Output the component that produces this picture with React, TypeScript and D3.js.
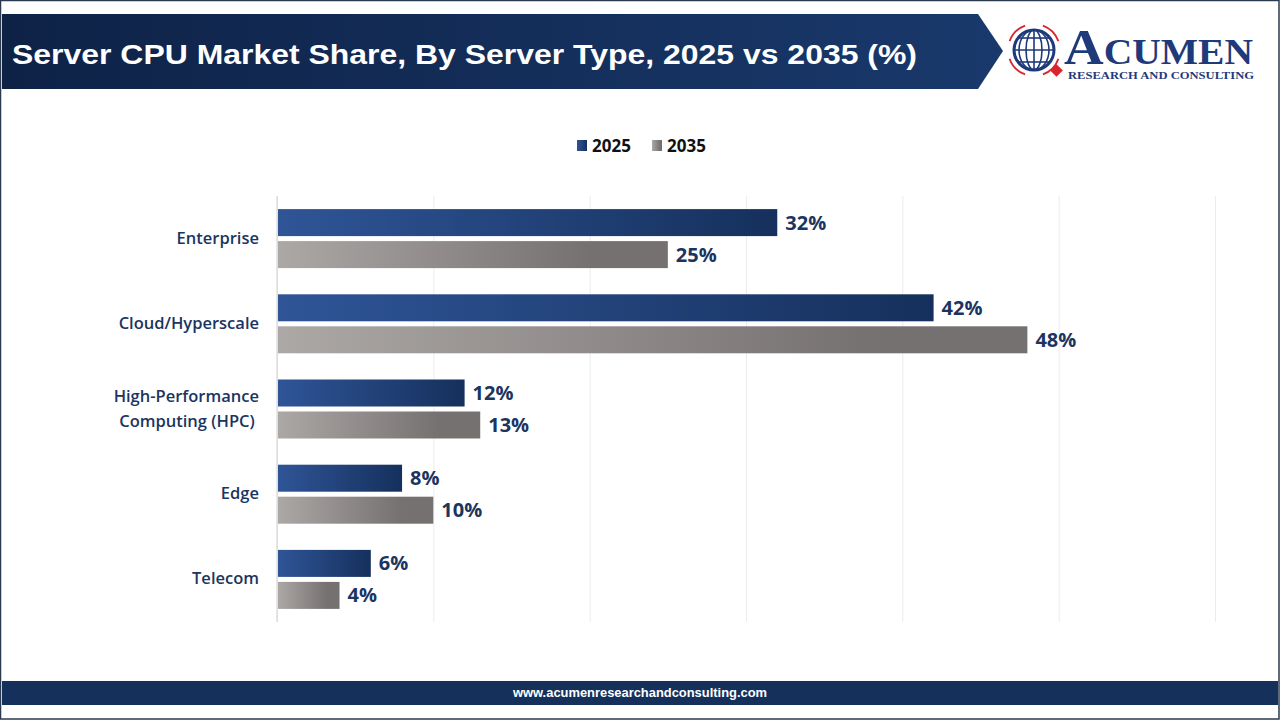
import { useEffect, useRef } from 'react';
import { select, scaleLinear, scaleBand, axisBottom } from 'd3';

const categories = ['Enterprise', 'Cloud/Hyperscale', 'High-Performance Computing (HPC)', 'Edge', 'Telecom'];
const categoryLines = [['Enterprise'], ['Cloud/Hyperscale'], ['High-Performance', 'Computing (HPC) '], ['Edge'], ['Telecom']];
const years = ['2025', '2035'];
const share2025 = [32, 42, 12, 8, 6];
const share2035 = [25, 48, 13, 10, 4];
const xTicks = [0, 10, 20, 30, 40, 50, 60];

const W = 1280;
const H = 720;
const plot = { left: 277, right: 1215, top: 196, bottom: 622 };
const navy = '#1b3561';
const labelFont = '"Open Sans", "Noto Sans", sans-serif';

const App = () => {
  const svgRef = useRef(null);

  useEffect(() => {
    const svg = select(svgRef.current);
    svg.selectAll('*').remove();

    const defs = svg.append('defs');
    const blue = defs.append('linearGradient').attr('id', 'g2025');
    blue.append('stop').attr('offset', '0%').attr('stop-color', '#2f5597');
    blue.append('stop').attr('offset', '100%').attr('stop-color', '#15305c');
    const grey = defs.append('linearGradient').attr('id', 'g2035');
    grey.append('stop').attr('offset', '0%').attr('stop-color', '#aca8a6');
    grey.append('stop').attr('offset', '80%').attr('stop-color', '#767171');
    grey.append('stop').attr('offset', '100%').attr('stop-color', '#767171');
    const head = defs.append('linearGradient').attr('id', 'head');
    head.append('stop').attr('offset', '0%').attr('stop-color', '#0e2246');
    head.append('stop').attr('offset', '100%').attr('stop-color', '#19396c');

    svg.append('rect').attr('width', W).attr('height', H).attr('fill', '#fff');

    // header banner with arrow tip
    svg
      .append('path')
      .attr('d', 'M2,14 L978,14 L1003,51 L978,89 L2,89 Z')
      .attr('fill', 'url(#head)');
    svg
      .append('text')
      .attr('x', 12)
      .attr('y', 64)
      .attr('fill', '#fff')
      .attr('font-family', '"Liberation Sans", Arial, sans-serif')
      .attr('font-weight', 700)
      .attr('font-size', 28)
      .attr('textLength', 905)
      .attr('lengthAdjust', 'spacingAndGlyphs')
      .text('Server CPU Market Share, By Server Type, 2025 vs 2035 (%)');

    // logo: globe, red orbit arrows, wordmark
    const logo = svg.append('g');
    const cx = 1034;
    const cy = 50;
    logo.append('circle').attr('cx', cx).attr('cy', cy).attr('r', 20).attr('fill', '#fff').attr('stroke', '#1f3a7a').attr('stroke-width', 3);
    [-12, 0, 12].forEach((dy) => {
      const hw = Math.sqrt(400 - dy * dy);
      logo.append('line').attr('x1', cx - hw).attr('x2', cx + hw).attr('y1', cy + dy).attr('y2', cy + dy).attr('stroke', '#1f3a7a').attr('stroke-width', 1.6);
    });
    [8, 15].forEach((rx) => {
      logo.append('ellipse').attr('cx', cx).attr('cy', cy).attr('rx', rx).attr('ry', 20).attr('fill', 'none').attr('stroke', '#1f3a7a').attr('stroke-width', 1.6);
    });
    logo.append('line').attr('x1', cx).attr('x2', cx).attr('y1', cy - 20).attr('y2', cy + 20).attr('stroke', '#1f3a7a').attr('stroke-width', 1.6);
    const arcR = 26;
    [[200, 250], [290, 340], [20, 70], [110, 160]].forEach(([a0, a1]) => {
      const p0 = [cx + arcR * Math.cos((a0 * Math.PI) / 180), cy + arcR * Math.sin((a0 * Math.PI) / 180)];
      const p1 = [cx + arcR * Math.cos((a1 * Math.PI) / 180), cy + arcR * Math.sin((a1 * Math.PI) / 180)];
      logo
        .append('path')
        .attr('d', `M${p0[0]},${p0[1]} A${arcR},${arcR} 0 0 1 ${p1[0]},${p1[1]}`)
        .attr('fill', 'none')
        .attr('stroke', '#d9262c')
        .attr('stroke-width', 1.8);
    });
    logo.append('rect').attr('x', 1052).attr('y', 66).attr('width', 9).attr('height', 9).attr('fill', '#d9262c').attr('transform', 'rotate(45 1056.5 70.5)');
    logo
      .append('text')
      .attr('x', 1064)
      .attr('y', 64)
      .attr('fill', '#1f3a7a')
      .attr('font-family', '"Liberation Serif", "DejaVu Serif", serif')
      .attr('font-weight', 700)
      .call((t) => {
        t.append('tspan').attr('font-size', 50).text('A');
        t.append('tspan').attr('font-size', 36).text('CUMEN');
      })
      .attr('textLength', 189)
      .attr('lengthAdjust', 'spacingAndGlyphs');
    logo
      .append('text')
      .attr('x', 1068)
      .attr('y', 79)
      .attr('fill', '#1f3a7a')
      .attr('font-family', '"Liberation Serif", "DejaVu Serif", serif')
      .attr('font-weight', 700)
      .attr('font-size', 11)
      .attr('textLength', 186)
      .attr('lengthAdjust', 'spacingAndGlyphs')
      .text('RESEARCH AND CONSULTING');

    // legend
    const legend = svg.append('g').attr('font-family', labelFont).attr('font-weight', 700).attr('font-size', 17);
    [
      { x: 577, fill: 'url(#g2025)', label: years[0] },
      { x: 652, fill: 'url(#g2035)', label: years[1] },
    ].forEach((d) => {
      legend.append('rect').attr('x', d.x).attr('y', 140).attr('width', 10).attr('height', 11).attr('fill', d.fill);
      legend.append('text').attr('x', d.x + 15).attr('y', 152).attr('fill', '#111').text(d.label);
    });

    // scales
    const x = scaleLinear().domain([0, 60]).range([plot.left, plot.right]);
    const y = scaleBand().domain(categories).range([plot.top, plot.bottom]);
    const barH = 27;
    const gap = 5;

    const grid = svg
      .append('g')
      .attr('transform', `translate(0,${plot.bottom})`)
      .call(axisBottom(x).tickValues(xTicks).tickSize(-(plot.bottom - plot.top)).tickFormat(() => ''));
    grid.select('.domain').remove();
    grid.selectAll('line').attr('stroke', '#ececec').attr('stroke-width', 1);

    svg.append('line').attr('x1', plot.left).attr('x2', plot.left).attr('y1', plot.top).attr('y2', plot.bottom).attr('stroke', '#d0d0d0');

    const g = svg.append('g');

    categories.forEach((c, i) => {
      const mid = y(c) + y.bandwidth() / 2;
      const y1 = mid - gap / 2 - barH;
      const y2 = mid + gap / 2;
      const bars = [
        { v: share2025[i], yy: y1, fill: 'url(#g2025)' },
        { v: share2035[i], yy: y2, fill: 'url(#g2035)' },
      ];
      bars.forEach((b) => {
        g.append('rect').attr('x', x(0) + 1).attr('y', b.yy).attr('width', x(b.v) - x(0) - 1).attr('height', barH).attr('fill', b.fill);
        g.append('text')
          .attr('x', x(b.v) + 8)
          .attr('y', b.yy + barH / 2 + 7)
          .attr('fill', navy)
          .attr('font-family', labelFont)
          .attr('font-weight', 700)
          .attr('font-size', 20)
          .text(`${b.v}%`);
      });

      const lines = categoryLines[i];
      lines.forEach((ln, k) => {
        g.append('text')
          .attr('x', 259)
          .attr('y', mid + 5 + (k - (lines.length - 1) / 2) * 25)
          .attr('text-anchor', 'end')
          .attr('fill', navy)
          .attr('font-family', labelFont)
          .attr('font-weight', 600)
          .attr('font-size', 16.5)
          .attr('xml:space', 'preserve')
          .text(ln);
      });
    });

    // footer
    svg.append('rect').attr('x', 2).attr('y', 681).attr('width', 1276).attr('height', 24).attr('fill', '#14305b');
    svg
      .append('text')
      .attr('x', 640)
      .attr('y', 697)
      .attr('text-anchor', 'middle')
      .attr('fill', '#fff')
      .attr('font-family', '"Liberation Sans Narrow", "Liberation Sans", Arial, sans-serif')
      .attr('font-weight', 700)
      .attr('font-size', 13)
      .attr('textLength', 254)
      .attr('lengthAdjust', 'spacingAndGlyphs')
      .text('www.acumenresearchandconsulting.com');

    // outer frame
    svg.append('rect').attr('x', 0.5).attr('y', 0.5).attr('width', W - 1.5).attr('height', H - 1.5).attr('fill', 'none').attr('stroke', '#2b3a4e').attr('stroke-width', 1.5);
  }, []);

  return <svg ref={svgRef} width={W} height={H} style={{ position: 'absolute', left: 0, top: 0, display: 'block' }} />;
};

export default App;
